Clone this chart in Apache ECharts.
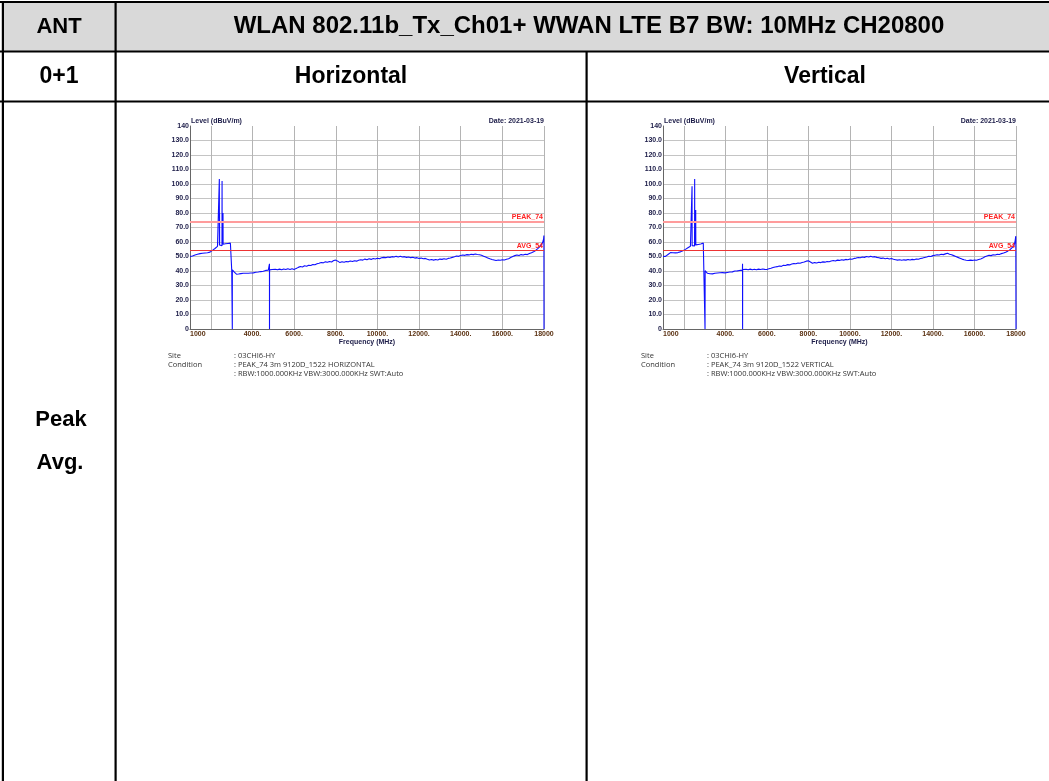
<!DOCTYPE html>
<html><head><meta charset="utf-8">
<script src="https://cdn.jsdelivr.net/npm/echarts@6/dist/echarts.min.js"></script>
<style>html,body{margin:0;padding:0;background:#fff}#c{width:1049px;height:781px}</style>
</head><body><div id="c"></div>
<script>
// ---------- data ----------
const headerLabels = ['ANT', 'WLAN 802.11b_Tx_Ch01+ WWAN LTE B7 BW: 10MHz CH20800'];
const rowLabels = ['0+1', 'Horizontal', 'Vertical'];
const modeLabels = ['Peak', 'Avg.'];
const yTitle = 'Level (dBuV/m)';
const xTitle = 'Frequency (MHz)';
const dateText = 'Date: 2021-03-19';
const siteLabels = ['Site', 'Condition'];
const siteValue = ': 03CHI6-HY';
const conditionH = ': PEAK_74 3m 9120D_1522 HORIZONTAL';
const conditionV = ': PEAK_74 3m 9120D_1522 VERTICAL';
const rbwText = ': RBW:1000.000KHz VBW:3000.000KHz SWT:Auto';
const limitNames = ['PEAK_74', 'AVG_54'];
const limitValues = [74, 54];

const hFreq = [1000,1060,1120,1180,1240,1300,1360,1420,1480,1540,1600,1660,1720,1780,1840,1900,1960,2020,2080,2140,2200,2260,2320,2380,
2405,2409,2413,2418,2422,2440,2470,2500,2536,2540,2544,2580,2585,2590,2640,2700,2760,2820,2880,2940,3000,3004,3030,3032,3034,
3080,3130,3180,3230,3280,3330,3380,3440,3500,3560,3620,3680,3740,3800,3860,3920,3980,4040,4100,4160,4220,4280,4340,4400,4460,4520,4580,4640,4700,4760,
4812,4816,4818,4821,4880,4940,5000,5100,5200,5300,5400,5500,5600,5700,5800,5900,6000,6100,6200,6300,6400,6500,6600,6700,6800,6900,
7000,7100,7200,7300,7400,7500,7600,7700,7800,7900,8000,8100,8200,8300,8400,8500,8600,8700,8800,8900,9000,9100,9200,9300,9400,9500,9600,9700,9800,9900,
10000,10100,10200,10300,10400,10500,10600,10700,10800,10900,11000,11100,11200,11300,11400,11500,11600,11700,11800,11900,
12000,12100,12200,12300,12400,12500,12600,12700,12800,12900,13000,13100,13200,13300,13400,13500,13600,13700,13800,13900,
14000,14100,14200,14300,14400,14500,14600,14700,14800,14900,15000,15100,15200,15300,15400,15500,15600,15700,15800,15900,
16000,16100,16200,16300,16400,16500,16600,16700,16800,16900,17000,17100,17200,17300,17400,17500,17600,17700,17800,17850,17900,17950,17980,17995,18000];
const hLevel = [50.0,50.6,50.3,51.2,51.0,51.8,51.5,52.3,52.0,52.6,52.2,52.8,52.4,53.0,52.6,53.3,53.0,53.8,54.2,54.8,55.5,56.3,57.0,57.4,
57.2,103.5,57.6,80.0,57.9,58.0,57.6,58.0,57.4,102.0,57.8,58.0,80.0,58.4,58.2,58.8,58.4,59.0,59.4,59.2,59.8,40.5,40.0,0,40.8,
40.2,39.2,38.6,37.8,37.3,37.9,38.6,38.2,39.0,38.5,38.9,38.4,38.8,38.5,38.9,38.6,38.9,38.7,39.0,39.1,39.4,39.3,39.8,39.6,40.0,39.8,40.2,40.4,40.1,40.6,
40.4,45.0,0,40.8,40.6,41.0,40.7,41.2,40.8,41.3,40.9,41.4,41.0,41.5,41.1,41.6,41.0,41.8,42.5,43.1,42.8,43.6,43.3,44.0,43.8,44.5,
44.3,45.0,45.4,45.9,45.6,46.3,46.0,46.6,46.2,47.2,47.5,46.8,45.8,46.4,46.0,46.6,46.3,46.9,46.5,47.1,46.8,47.4,47.8,47.5,48.2,47.8,48.4,48.0,48.6,48.3,
48.8,48.5,49.1,49.4,49.2,49.7,49.4,49.9,49.6,50.1,49.7,50.2,49.6,49.9,49.4,49.7,49.2,49.5,48.9,49.2,
48.6,48.9,48.4,48.7,48.1,47.6,47.9,47.5,47.9,47.6,48.2,48.0,48.4,48.1,48.7,49.0,49.4,49.8,50.3,50.1,
50.7,51.0,50.8,51.3,51.1,51.5,51.3,51.7,51.4,51.2,50.8,50.2,49.6,49.0,48.4,47.9,47.6,47.3,47.6,47.4,
47.8,47.6,48.1,48.5,49.3,50.0,50.6,51.0,50.7,51.3,51.0,51.6,51.3,52.0,52.6,53.3,54.2,55.4,56.8,55.5,58.5,60.5,62.0,64.5,0];

const vFreq = [1000,1060,1120,1180,1240,1300,1360,1420,1480,1540,1600,1660,1720,1780,1840,1900,1960,2020,2080,2140,2200,2260,2320,2380,
2395,2399,2403,2460,2520,2525,2530,2570,2575,2580,2640,2700,2760,2820,2880,2940,2980,3020,3024,3030,
3080,3140,3200,3260,3320,3380,3440,3500,3560,3620,3680,3740,3800,3860,3920,3980,4040,4100,4160,4220,4280,4340,4400,4460,4520,4580,4640,4700,4760,
4826,4830,4833,4836,4900,5000,5100,5200,5300,5400,5500,5600,5700,5800,5900,6000,6100,6200,6300,6400,6500,6600,6700,6800,6900,
7000,7100,7200,7300,7400,7500,7600,7700,7800,7900,8000,8100,8200,8300,8400,8500,8600,8700,8800,8900,9000,9100,9200,9300,9400,9500,9600,9700,9800,9900,
10000,10100,10200,10300,10400,10500,10600,10700,10800,10900,11000,11100,11200,11300,11400,11500,11600,11700,11800,11900,
12000,12100,12200,12300,12400,12500,12600,12700,12800,12900,13000,13100,13200,13300,13400,13500,13600,13700,13800,13900,
14000,14100,14200,14300,14400,14500,14600,14700,14800,14900,15000,15100,15200,15300,15400,15500,15600,15700,15800,15900,
16000,16100,16200,16300,16400,16500,16600,16700,16800,16900,17000,17100,17200,17300,17400,17500,17600,17700,17800,17900,17950,17990,18000];
const vLevel = [50.0,50.3,50.1,50.8,51.4,52.1,52.7,52.4,52.6,52.2,52.5,52.3,52.7,53.0,53.2,53.5,53.9,54.4,54.9,55.4,56.0,56.6,57.1,57.0,
57.3,98.5,57.5,57.8,57.3,103.5,57.6,57.4,82.0,58.0,57.8,58.3,58.0,58.6,58.9,59.3,59.0,59.8,0,40.2,
39.6,38.4,37.8,38.1,37.6,38.0,37.8,38.4,38.2,38.6,38.3,38.8,38.5,38.9,38.5,38.7,38.4,39.0,38.8,39.3,39.5,39.4,39.8,40.0,40.3,40.1,40.5,40.4,40.8,
40.6,45.0,0,41.0,40.8,41.2,40.9,41.3,40.8,41.2,40.9,41.3,41.0,41.4,41.1,41.0,41.5,41.9,42.4,42.8,43.0,43.5,43.2,44.0,43.8,
44.4,44.2,44.8,45.1,45.0,45.5,45.3,45.9,46.2,46.8,47.0,46.2,45.3,45.8,45.5,46.0,45.8,46.3,46.1,46.6,46.4,46.9,47.2,46.9,47.5,47.3,47.8,47.5,48.0,47.8,
48.3,48.1,48.7,48.9,49.3,49.1,49.6,49.4,50.0,49.7,50.1,49.6,49.9,49.4,49.1,48.7,48.9,48.5,48.8,48.3,
48.6,48.1,47.8,47.5,47.8,47.4,47.7,47.5,47.9,47.6,48.0,47.8,48.3,48.1,48.6,48.9,49.3,49.7,50.2,50.0,
50.6,50.9,51.2,51.0,51.5,51.3,51.8,52.2,51.6,51.2,50.6,50.0,49.4,48.8,48.2,47.7,47.4,47.2,47.5,47.3,
47.6,47.4,47.9,48.3,48.9,49.8,50.4,50.9,50.6,51.2,51.0,51.5,51.4,52.0,52.4,53.0,53.7,54.5,56.0,57.5,60.0,64.0,0];

// ---------- layout ----------
const grids = [
  {left: 190, top: 126, width: 354, height: 203},
  {left: 663, top: 126, width: 353, height: 203}
];
const conditions = [conditionH, conditionV];
const traces = [[hFreq, hLevel], [vFreq, vLevel]];

const F = '"Liberation Sans", Arial, sans-serif';
const graphic = [];
function rect(x, y, w, h, fill) { graphic.push({type: 'rect', shape: {x, y, width: w, height: h}, style: {fill}, silent: true}); }
function text(x, y, t, opt) {
  graphic.push({type: 'text', x, y, silent: true, z: 10, style: Object.assign({text: t, fill: '#000', fontFamily: F, align: 'center', verticalAlign: 'middle'}, opt)});
}
// table
rect(3, 3, 1046, 48, '#d9d9d9');
rect(0, 1, 1049, 2, '#000');
rect(0, 50.5, 1049, 2, '#000');
rect(0, 100.5, 1049, 2, '#000');
rect(1.8, 1, 2.2, 780, '#000');
rect(114.5, 1, 2.2, 780, '#000');
rect(585.5, 51, 2.2, 730, '#000');
const big = {fontSize: 23, fontWeight: 'bold'};
const mid = {fontSize: 22, fontWeight: 'bold'};
text(59, 26.5, headerLabels[0], mid);
text(589, 26.5, headerLabels[1], Object.assign({}, big, {fontSize: 24}));
text(59, 76.5, rowLabels[0], big);
text(351, 76.5, rowLabels[1], big);
text(825, 76.5, rowLabels[2], big);
text(61, 420, modeLabels[0], mid);
text(60, 463, modeLabels[1], mid);

const series = [], xAxes = [], yAxes = [];
grids.forEach((g, i) => {
  const small = {fontSize: 7, fontWeight: 'bold', fill: '#1c1c48'};
  text(g.left + 1, g.top - 4.5, yTitle, Object.assign({}, small, {align: 'left'}));
  text(g.left + g.width, g.top - 4.5, dateText, Object.assign({}, small, {align: 'right'}));
  text(g.left + g.width / 2, g.top + g.height + 13, xTitle, Object.assign({}, small, {fill: '#1c1c48'}));
  const info = {fontSize: 7.5, fontFamily: '"Open Sans", sans-serif', fill: '#333', align: 'left'};
  const by = g.top + g.height + 27;
  text(g.left - 22, by, siteLabels[0], info);
  text(g.left + 44, by, siteValue, info);
  text(g.left - 22, by + 9, siteLabels[1], info);
  text(g.left + 44, by + 9, conditions[i], info);
  text(g.left + 44, by + 18, rbwText, info);

  xAxes.push({
    type: 'value', gridIndex: i, min: 1000, max: 18000, interval: 1000,
    axisLine: {show: true, onZero: false, lineStyle: {color: '#666', width: 1}},
    axisTick: {show: false},
    splitLine: {show: true, lineStyle: {color: ['rgba(0,0,0,0)', '#b4b4b4'], width: 1}},
    axisLabel: {
      margin: 2, fontSize: 7, fontWeight: 'bold', color: '#5a3010', fontFamily: F,
      alignMinLabel: 'left', hideOverlap: false, showMinLabel: true, showMaxLabel: true,
      formatter: v => v === 1000 ? '1000' : v === 18000 ? '18000' : (v % 2000 === 0 && v !== 2000 ? v + '.' : '')
    }
  });
  yAxes.push({
    type: 'value', gridIndex: i, min: 0, max: 140, interval: 10,
    axisLine: {show: true, lineStyle: {color: '#666', width: 1}},
    axisTick: {show: false},
    splitLine: {show: true, showMaxLine: false, lineStyle: {color: '#c4c4c4', width: 1}},
    axisLabel: {
      margin: 1, fontSize: 7, fontWeight: 'bold', color: '#1c1c48', fontFamily: F,
      showMinLabel: true, showMaxLabel: true,
      formatter: v => v === 0 ? '0' : v === 140 ? '140' : v.toFixed(1)
    }
  });
  const [fr, lv] = traces[i];
  series.push({
    type: 'line', xAxisIndex: i, yAxisIndex: i, showSymbol: false, animation: false,
    data: fr.map((f, k) => [f, lv[k]]),
    lineStyle: {color: '#0f0fff', width: 1.1},
    markLine: {
      silent: true, symbol: 'none', animation: false,
      data: limitValues.map((val, k) => ({
        yAxis: val, name: limitNames[k],
        lineStyle: {color: k === 0 ? '#ff9c9c' : '#ee3333', width: k === 0 ? 1.8 : 1, type: 'solid'},
        label: {show: true, position: 'insideEndTop', formatter: limitNames[k], color: '#ff2222',
                fontSize: 7, fontWeight: 'bold', fontFamily: F, distance: 1}
      }))
    }
  });
});

const chart = echarts.init(document.getElementById('c'), null, {renderer: 'canvas'});
chart.setOption({
  animation: false,
  grid: grids.map(g => Object.assign({containLabel: false}, g)),
  xAxis: xAxes, yAxis: yAxes, series, graphic
});
</script></body></html>
